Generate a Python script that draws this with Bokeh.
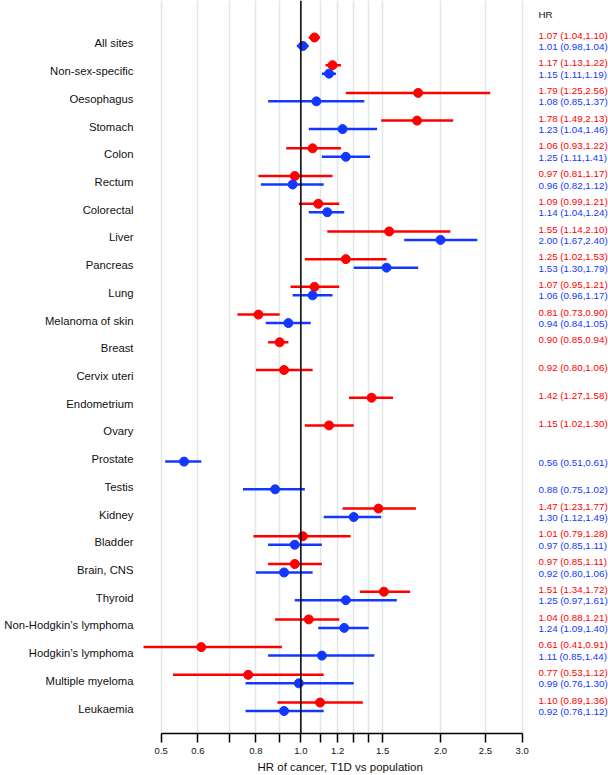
from bokeh.plotting import figure
from bokeh.models import FixedTicker, Span, ColumnDataSource, Range1d, Title
from bokeh.core.properties import value
from bokeh.embed import file_html
from bokeh.resources import INLINE

# ---------------- data ----------------
sites = ["All sites", "Non-sex-specific", "Oesophagus", "Stomach", "Colon", "Rectum",
         "Colorectal", "Liver", "Pancreas", "Lung", "Melanoma of skin", "Breast",
         "Cervix uteri", "Endometrium", "Ovary", "Prostate", "Testis", "Kidney",
         "Bladder", "Brain, CNS", "Thyroid", "Non-Hodgkin\u2019s lymphoma",
         "Hodgkin\u2019s lymphoma", "Multiple myeloma", "Leukaemia"]

N = None
# red series (women)
women_hr = [1.07, 1.17, 1.79, 1.78, 1.06, 0.97, 1.09, 1.55, 1.25, 1.07, 0.81, 0.90, 0.92,
            1.42, 1.15, N, N, 1.47, 1.01, 0.97, 1.51, 1.04, 0.61, 0.77, 1.10]
women_lo = [1.04, 1.13, 1.25, 1.49, 0.93, 0.81, 0.99, 1.14, 1.02, 0.95, 0.73, 0.85, 0.80,
            1.27, 1.02, N, N, 1.23, 0.79, 0.85, 1.34, 0.88, 0.41, 0.53, 0.89]
women_hi = [1.10, 1.22, 2.56, 2.13, 1.22, 1.17, 1.21, 2.10, 1.53, 1.21, 0.90, 0.94, 1.06,
            1.58, 1.30, N, N, 1.77, 1.28, 1.11, 1.72, 1.21, 0.91, 1.12, 1.36]
# blue series (men)
men_hr = [1.01, 1.15, 1.08, 1.23, 1.25, 0.96, 1.14, 2.00, 1.53, 1.06, 0.94, N, N, N, N,
          0.56, 0.88, 1.30, 0.97, 0.92, 1.25, 1.24, 1.11, 0.99, 0.92]
men_lo = [0.98, 1.11, 0.85, 1.04, 1.11, 0.82, 1.04, 1.67, 1.30, 0.96, 0.84, N, N, N, N,
          0.51, 0.75, 1.12, 0.85, 0.80, 0.97, 1.09, 0.85, 0.76, 0.76]
men_hi = [1.04, 1.19, 1.37, 1.46, 1.41, 1.12, 1.24, 2.40, 1.79, 1.17, 1.05, N, N, N, N,
          0.61, 1.02, 1.49, 1.11, 1.06, 1.61, 1.40, 1.44, 1.30, 1.12]

x_ticks = [0.5, 0.6, 0.7, 0.8, 0.9, 1.0, 1.1, 1.2, 1.3, 1.4, 1.5, 2.0, 2.5, 3.0]
x_tick_labels = ["0.5", "0.6", "", "0.8", "", "1.0", "", "1.2", "", "", "1.5", "2.0", "2.5", "3.0"]
x_title = "HR of cancer, T1D vs population"

# ---------------- style / layout ----------------
RED = "#ff0000"
BLUE = "#1238ff"
FONT = "Liberation Sans"
RED_DOT_OFF, BLUE_DOT_OFF = 0.216, -0.09
RED_TXT_OFF, BLUE_TXT_OFF = 0.30, -0.11
TEXT_X = 3.253

n = len(sites)
ypos = [n - 1 - i for i in range(n)]


def series(hr, lo, hi, off):
    d = dict(x=[], lo=[], hi=[], y=[], ty=[], label=[])
    for i in range(n):
        if hr[i] is None:
            continue
        d["x"].append(hr[i]); d["lo"].append(lo[i]); d["hi"].append(hi[i])
        d["y"].append(ypos[i] + off[0]); d["ty"].append(ypos[i] + off[1])
        d["label"].append(f"{hr[i]:.2f} ({lo[i]:.2f},{hi[i]:.2f})")
    return ColumnDataSource(d)


src_w = series(women_hr, women_lo, women_hi, (RED_DOT_OFF, RED_TXT_OFF))
src_m = series(men_hr, men_lo, men_hi, (BLUE_DOT_OFF, BLUE_TXT_OFF))

p = figure(width=608, height=775, x_axis_type="log",
           x_range=Range1d(0.4579, 4.604), y_range=Range1d(-0.901, n - 1 + 1.55),
           output_backend="svg", toolbar_location=None,
           min_border_left=143, min_border_right=0, min_border_top=0, min_border_bottom=41)
p.outline_line_color = None
p.background_fill_color = "white"

p.ygrid.visible = False
p.xgrid.ticker = FixedTicker(ticks=x_ticks)
p.xgrid.grid_line_color = "#dfe7e7"
p.xgrid.grid_line_width = 1.5

xa = p.xaxis[0]
xa.ticker = FixedTicker(ticks=x_ticks, minor_ticks=[])
xa.bounds = (x_ticks[0], x_ticks[-1])
xa.major_label_overrides = {t: l for t, l in zip(x_ticks, x_tick_labels)}
xa.minor_tick_line_color = None
xa.major_tick_in = 0
xa.major_tick_out = 9
xa.axis_line_width = 1.5
xa.major_tick_line_width = 1.5
xa.major_label_text_font = FONT
xa.major_label_text_font_size = "9.5px"
xa.major_label_text_color = "#111111"
xa.major_label_standoff = 5

p.add_layout(Title(text=x_title, align="left", offset=114, standoff=5,
                   text_font=FONT, text_font_size="11.5px", text_font_style="normal",
                   text_color="#111111"), "below")

ya = p.yaxis[0]
ya.ticker = FixedTicker(ticks=ypos, minor_ticks=[])
ya.major_label_overrides = {y: s for y, s in zip(ypos, sites)}
ya.axis_line_color = None
ya.major_tick_line_color = None
ya.minor_tick_line_color = None
ya.major_tick_in = 0
ya.major_tick_out = 0
ya.major_label_standoff = 10
ya.major_label_text_font = FONT
ya.major_label_text_font_size = "11.3px"
ya.major_label_text_color = "#111111"

p.add_layout(Span(location=1.0, dimension="height", line_color="black", line_width=1.5))

for src, col in ((src_w, RED), (src_m, BLUE)):
    p.segment(x0="lo", y0="y", x1="hi", y1="y", source=src, line_color=col, line_width=2.5)
    p.scatter(x="x", y="y", source=src, size=9, fill_color=col, line_color=col)
    p.text(x=TEXT_X, y="ty", text="label", source=src, text_color=col,
           text_font=value(FONT), text_font_size="9.8px",
           text_align="left", text_baseline="middle")

p.text(x=[TEXT_X], y=[n - 1 + 1.05], text=["HR"], text_color="#111111",
       text_font=value(FONT), text_font_size="9.8px",
       text_align="left", text_baseline="middle")

open("out.html", "w").write(file_html(p, INLINE))
